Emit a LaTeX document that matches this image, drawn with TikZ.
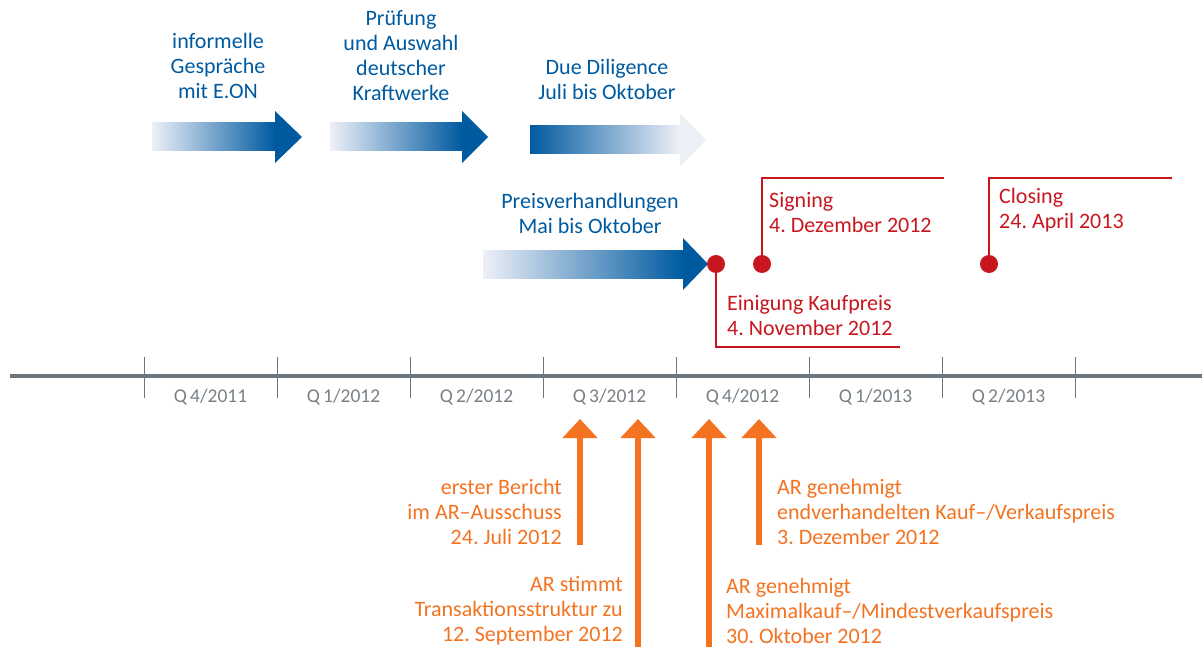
\documentclass[tikz,border=0pt]{standalone}
\usepackage{fontspec}
\setmainfont{Carlito}
\usetikzlibrary{arrows.meta}
\frenchspacing

\definecolor{eonblue}{RGB}{0,90,160}
\definecolor{paleblue}{RGB}{238,240,248}
\definecolor{dealred}{RGB}{200,22,30}
\definecolor{arorange}{RGB}{243,115,32}
\definecolor{axisgray}{RGB}{110,118,124}
\definecolor{labelgray}{RGB}{120,128,134}

\tikzset{
  phase/.style={text=eonblue, align=center, inner sep=0pt, font=\fontsize{22}{25}\selectfont},
  milestone/.style={text=dealred, align=left, anchor=west, inner sep=0pt, font=\fontsize{22}{25}\selectfont},
  boardtext/.style={text=arorange, inner sep=0pt, font=\fontsize{22}{25}\selectfont},
  quarter/.style={text=labelgray, inner sep=0pt, font=\fontsize{19.5}{22}\selectfont},
  redline/.style={dealred, line width=1.3pt},
  reddot/.style={circle, fill=dealred, minimum size=18pt, inner sep=0pt},
  boardarrow/.style={arorange, line width=6.5pt, -{Triangle[width=34pt,length=19pt]}},
}

\begin{document}
\begin{tikzpicture}[x=1pt,y=-1pt]
	\useasboundingbox (0,0) rectangle (1202,647);

	% blue phase arrows
	\foreach \xa/\xb/\xc/\yc in {152/275/302/137, 330/462/488/137, 483/683/708/264} {
			\shade[left color=paleblue, right color=eonblue] (\xa,\yc-14) rectangle (\xb,\yc+14);
			\fill[eonblue] (\xb,\yc-26) -- (\xc,\yc) -- (\xb,\yc+26) -- cycle;
		}
	\shade[left color=eonblue, right color=paleblue] (530,126) rectangle (680,154);
	\fill[paleblue] (680,114) -- (706,140) -- (680,166) -- cycle;

	\node[phase] (gespraeche) at (218,66) {informelle\\Gespräche\\mit E.ON};
	\node[phase] (pruefung) at (401,56) {Prüfung\\und Auswahl\\deutscher\\Kraftwerke};
	\node[phase] (diligence) at (607,79) {Due Diligence\\Juli bis Oktober};
	\node[phase] (preis) at (590,213) {Preisverhandlungen\\Mai bis Oktober};

	% red milestones
	\node[reddot] (einigungdot) at (716,264) {};
	\node[reddot] (signingdot) at (762,264) {};
	\node[reddot] (closingdot) at (989,264) {};
	\coordinate (einigungend) at (900,347);
	\coordinate (signingend) at (944,178);
	\coordinate (closingend) at (1172,178);
	\draw[redline] (einigungdot.center) |- (einigungend);
	\draw[redline] (signingdot.center) |- (signingend);
	\draw[redline] (closingdot.center) |- (closingend);
	\node[milestone] (einigung) at (727,316) {Einigung Kaufpreis\\4. November 2012};
	\node[milestone] (signing) at (769,213) {Signing\\4. Dezember 2012};
	\node[milestone] (closing) at (999,210) {Closing\\24. April 2013};

	% timeline
	\draw[axisgray, line width=4pt] (10,376) -- (1202,376);
	\foreach \x in {144,277,410,543,676,809,942,1075} {
			\draw[axisgray, line width=1pt] (\x,357) -- (\x,398);
		}
	\foreach \x/\q/\yr in {144/4/2011, 277/1/2012, 410/2/2012, 543/3/2012, 676/4/2012, 809/1/2013, 942/2/2013} {
			\node[quarter] (q\q\yr) at (\x+66.5,397) {Q\,\q/\yr};
		}

	% orange board decisions
	\coordinate (berichtfoot) at (580,545);
	\coordinate (berichttip) at (580,419);
	\coordinate (strukturfoot) at (638,647);
	\coordinate (strukturtip) at (638,419);
	\coordinate (maximalfoot) at (709,647);
	\coordinate (maximaltip) at (709,419);
	\coordinate (endpreisfoot) at (759,545);
	\coordinate (endpreistip) at (759,419);
	\draw[boardarrow] (berichtfoot) -- (berichttip);
	\draw[boardarrow] (strukturfoot) -- (strukturtip);
	\draw[boardarrow] (maximalfoot) -- (maximaltip);
	\draw[boardarrow] (endpreisfoot) -- (endpreistip);

	\node[boardtext, align=right, anchor=east] (bericht) at (562,512) {erster Bericht\\im AR–Ausschuss\\24. Juli 2012};
	\node[boardtext, align=right, anchor=east] (struktur) at (623,611) {AR stimmt\\Transaktionsstruktur zu\\12. September 2012};
	\node[boardtext, align=left, anchor=west] (endpreis) at (777,512) {AR genehmigt\\endverhandelten Kauf–/Verkaufspreis\\3. Dezember 2012};
	\node[boardtext, align=left, anchor=west] (maximal) at (726,611) {AR genehmigt\\Maximalkauf–/Mindestverkaufspreis\\30. Oktober 2012};
\end{tikzpicture}
\end{document}
